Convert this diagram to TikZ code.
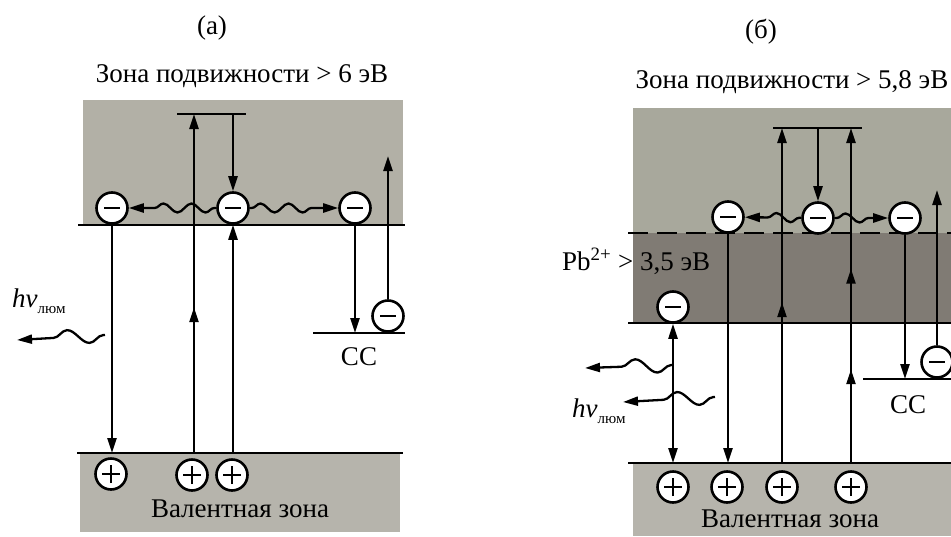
\documentclass[tikz,border=0pt]{standalone}
\usepackage{fontspec}
\setmainfont{Liberation Serif}
\usetikzlibrary{arrows.meta,decorations.pathmorphing,decorations.markings}
\definecolor{bandlight}{RGB}{178,176,166}
\definecolor{bandlightb}{RGB}{168,168,156}
\definecolor{banddark}{RGB}{128,123,116}
\definecolor{bandval}{RGB}{182,180,172}
\begin{document}
\begin{tikzpicture}[x=1pt,y=-1pt,
  >={Triangle[length=15pt,width=9pt]},
  lvl/.style={line width=2.8pt},
  trans/.style={line width=2.3pt},
  charge/.style={circle, draw, line width=2.6pt, fill=white, minimum size=31pt, inner sep=0pt},
  electron/.style={charge, path picture={\draw[line width=2.8pt] ([xshift=-8pt]path picture bounding box.center) -- ([xshift=8pt]path picture bounding box.center);}},
  hole/.style={charge, path picture={\draw[line width=2.3pt] ([xshift=-9pt]path picture bounding box.center) -- ([xshift=9pt]path picture bounding box.center) ([yshift=-9pt]path picture bounding box.center) -- ([yshift=9pt]path picture bounding box.center);}},
  wave/.style={trans, decorate, decoration={snake, amplitude=4.5pt, segment length=28pt, pre length=2pt, post length=15pt}},
  photon/.style={trans, decorate, decoration={snake, amplitude=7pt, segment length=44pt, pre length=2pt, post length=24pt}},
  midarrow/.style={postaction={decorate, decoration={markings, mark=at position #1 with {\arrow{>}}}}},
  lbl/.style={font=\fontsize{27}{31}\selectfont, inner sep=0pt},
]
\useasboundingbox (0,0) rectangle (951,536);

% ---------------- panel (a) ----------------
\fill[bandlight] (83,100) rectangle (403,225);
\fill[bandval] (80,453) rectangle (400,532);
\draw[lvl] (78,225) -- (405,225);
\draw[lvl] (77,453) -- (403,453);
\draw[lvl] (313,333) -- (405,333);
\draw[lvl] (177,114) -- (246,114);

\node[lbl] (tA) at (212,28) {(а)};
\node[lbl, anchor=base] (zA) at (242,82) {Зона подвижности > 6 эВ};
\node[lbl, anchor=base] (vA) at (240,517) {Валентная зона};
\node[lbl, anchor=base] (ccA) at (359,365) {СС};
\node[lbl, anchor=base west] (hvA) at (12,307) {\textit{hν}\raisebox{-6pt}{\fontsize{15}{17}\selectfont люм}};

\node[electron] (e1) at (112,208) {};
\node[electron] (e2) at (233,208) {};
\node[electron] (e3) at (355,208) {};
\node[electron] (e4) at (388,316) {};
\node[hole] (h1) at (111,474) {};
\node[hole] (h2) at (192,475) {};
\node[hole] (h3) at (232,475) {};

\coordinate (vL1) at (112,453);
\coordinate (vL2) at (194,453);
\coordinate (bL2) at (194,114);
\coordinate (vL3) at (233,453);
\coordinate (bL3) at (233,114);
\coordinate (ccL3) at (355,333);
\coordinate (topL4) at (388,156);
\coordinate (wA1) at (105,335);
\coordinate (wA2) at (17,340);

\draw[trans,->] (e1) -- (vL1);
\draw[trans,->,midarrow=0.43] (vL2) -- (bL2);
\draw[trans,->] (bL3) -- (e2);
\draw[trans,->] (vL3) -- (e2);
\draw[trans,->] (e3) -- (ccL3);
\draw[trans,->] (e4) -- (topL4);
\draw[wave,->] (e2) -- (e1);
\draw[wave,->] (e2) -- (e3);
\draw[photon,->] (wA1) -- (wA2);

% ---------------- panel (b) ----------------
\fill[bandlightb] (633,108) rectangle (951,233);
\fill[banddark] (633,233) rectangle (951,323);
\fill[bandval] (633,463) rectangle (951,536);
\draw[lvl, dash pattern=on 20pt off 9pt] (628,233) -- (951,233);
\draw[lvl] (628,323) -- (951,323);
\draw[lvl] (628,463) -- (951,463);
\draw[lvl] (863,379) -- (951,379);
\draw[lvl] (773,128) -- (862,128);

\node[lbl] (tB) at (761,32) {(б)};
\node[lbl, anchor=base] (zB) at (792,88) {Зона подвижности > 5,8 эВ};
\node[lbl, anchor=base] (vB) at (790,527) {Валентная зона};
\node[lbl, anchor=base] (ccB) at (908,413) {СС};
\node[lbl, anchor=base west] (hvB) at (572,417) {\textit{hν}\raisebox{-6pt}{\fontsize{15}{17}\selectfont люм}};
\node[lbl, anchor=base west] (pb) at (562,270) {Pb\textsuperscript{2+} > 3,5 эВ};

\node[electron] (r1) at (728,217) {};
\node[electron] (r2) at (818,218) {};
\node[electron] (r3) at (905,218) {};
\node[electron] (r4) at (937,362) {};
\node[electron] (r5) at (673,307) {};
\node[hole] (g1) at (673,487) {};
\node[hole] (g2) at (727,487) {};
\node[hole] (g3) at (782,487) {};
\node[hole] (g4) at (851,487) {};

\coordinate (vR1) at (673,463);
\coordinate (vR2) at (728,463);
\coordinate (vR3) at (782,463);
\coordinate (bR3) at (782,128);
\coordinate (bR4) at (818,128);
\coordinate (vR5) at (851,463);
\coordinate (bR5) at (851,128);
\coordinate (ccR) at (905,379);
\coordinate (topR) at (937,190);
\coordinate (wB1) at (673,365);
\coordinate (wB2) at (585,368);
\coordinate (wC1) at (715,397);
\coordinate (wC2) at (623,402);

\draw[trans,<->] (r5) -- (vR1);
\draw[trans,->] (r1) -- (vR2);
\draw[trans,->,midarrow=0.48] (vR3) -- (bR3);
\draw[trans,->] (bR4) -- (r2);
\draw[trans,->,midarrow=0.28,midarrow=0.58] (vR5) -- (bR5);
\draw[trans,->] (r3) -- (ccR);
\draw[trans,->] (r4) -- (topR);
\draw[wave,->] (r2) -- (r1);
\draw[wave,->] (r2) -- (r3);
\draw[photon,->] (wB1) -- (wB2);
\draw[photon,->] (wC1) -- (wC2);
\end{tikzpicture}
\end{document}
